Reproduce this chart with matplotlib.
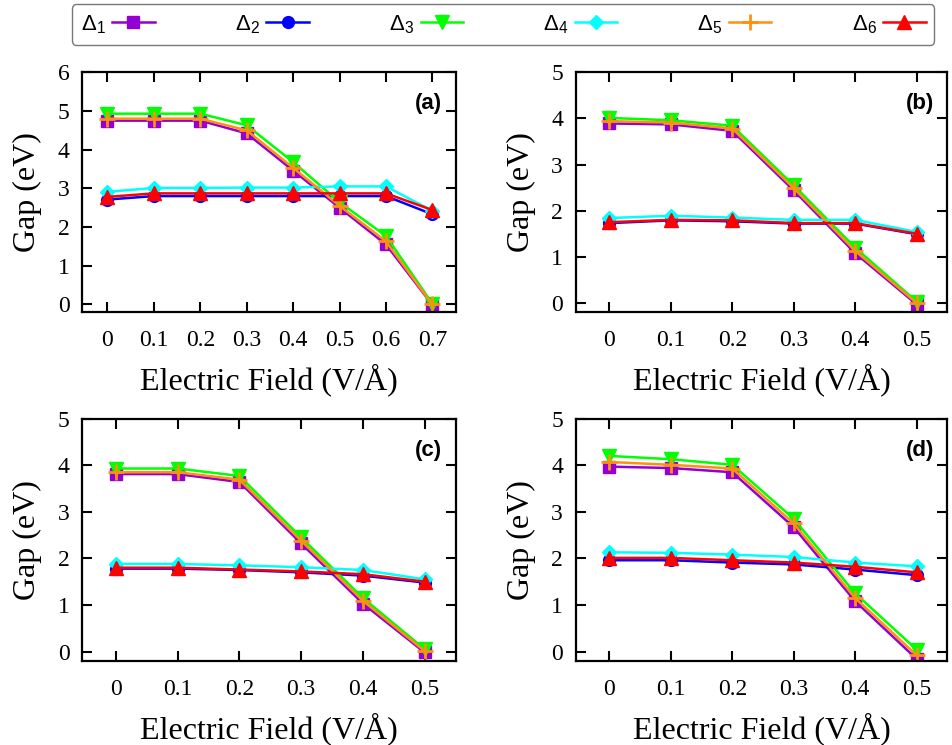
import matplotlib
matplotlib.use('Agg')
import matplotlib.pyplot as plt
from matplotlib.ticker import MultipleLocator

plt.rcParams['font.family'] = 'Liberation Serif'
plt.rcParams['mathtext.fontset'] = 'custom'
plt.rcParams['mathtext.rm'] = 'Liberation Sans'
plt.rcParams['mathtext.it'] = 'Liberation Sans'

# electric field values
field_a = [0, 0.1, 0.2, 0.3, 0.4, 0.5, 0.6, 0.7]
field_b = [0, 0.1, 0.2, 0.3, 0.4, 0.5]

# gaps (eV) for each panel, order: Delta1..Delta6
gaps_a = [
    [4.75, 4.75, 4.75, 4.42, 3.46, 2.50, 1.55, -0.01],
    [2.71, 2.80, 2.80, 2.80, 2.80, 2.80, 2.80, 2.33],
    [4.93, 4.93, 4.93, 4.63, 3.68, 2.64, 1.77, 0.02],
    [2.91, 3.01, 3.01, 3.02, 3.02, 3.05, 3.05, 2.42],
    [4.80, 4.80, 4.80, 4.50, 3.53, 2.55, 1.63, 0.00],
    [2.78, 2.87, 2.87, 2.87, 2.87, 2.87, 2.87, 2.44],
]
gaps_b = [
    [3.89, 3.87, 3.73, 2.44, 1.08, -0.03],
    [1.73, 1.79, 1.77, 1.72, 1.72, 1.49],
    [4.01, 3.96, 3.84, 2.55, 1.20, 0.03],
    [1.84, 1.89, 1.85, 1.80, 1.80, 1.54],
    [3.94, 3.91, 3.78, 2.49, 1.13, 0.00],
    [1.75, 1.80, 1.79, 1.73, 1.73, 1.50],
]
gaps_c = [
    [3.81, 3.81, 3.64, 2.32, 1.03, -0.02],
    [1.78, 1.78, 1.75, 1.70, 1.63, 1.48],
    [3.93, 3.93, 3.77, 2.45, 1.15, 0.05],
    [1.88, 1.88, 1.85, 1.81, 1.75, 1.55],
    [3.85, 3.85, 3.69, 2.38, 1.09, 0.01],
    [1.80, 1.80, 1.76, 1.72, 1.66, 1.50],
]
gaps_d = [
    [3.97, 3.94, 3.85, 2.67, 1.08, -0.16],
    [1.96, 1.96, 1.91, 1.87, 1.76, 1.64],
    [4.20, 4.13, 4.01, 2.85, 1.25, 0.04],
    [2.13, 2.12, 2.08, 2.03, 1.91, 1.83],
    [4.07, 4.01, 3.93, 2.75, 1.15, -0.08],
    [2.01, 2.01, 1.96, 1.91, 1.82, 1.70],
]

labels = [r'$\Delta_1$', r'$\Delta_2$', r'$\Delta_3$', r'$\Delta_4$', r'$\Delta_5$', r'$\Delta_6$']
colors = ['#9400D3', '#0000FF', '#00FF00', '#00FFFF', '#FF9010', '#FF0000']
markers = ['s', 'o', 'v', 'D', '+', '^']
msizes = [9, 8.5, 10, 7.5, 11, 10]

panels = [
    ('(a)', field_a, gaps_a, 6, [0.086, 0.581, 0.392, 0.322]),
    ('(b)', field_b, gaps_b, 5, [0.604, 0.581, 0.390, 0.322]),
    ('(c)', field_b, gaps_c, 5, [0.086, 0.113, 0.392, 0.325]),
    ('(d)', field_b, gaps_d, 5, [0.604, 0.113, 0.390, 0.325]),
]

fig = plt.figure(figsize=(9.53, 7.45), dpi=100)

handles = []
for tag, x, gaps, ymax, pos in panels:
    ax = fig.add_axes(pos)
    for i in range(6):
        h, = ax.plot(x, gaps[i], color=colors[i], marker=markers[i], markersize=msizes[i],
                     markeredgewidth=2 if markers[i] == '+' else 1, linewidth=1.8,
                     label=labels[i])
        if tag == '(a)':
            handles.append(h)
    ax.set_xlim(-0.055, x[-1] + 0.05)
    ax.set_ylim(-0.2, ymax)
    ax.yaxis.set_major_locator(MultipleLocator(1))
    ax.set_xticks(x)
    ax.set_xticklabels(['0'] + [str(v) for v in x[1:]])
    ax.tick_params(direction='in', top=True, right=True, length=7, width=1.5, labelsize=17)
    ax.tick_params(axis='x', pad=13)
    ax.tick_params(axis='y', pad=9)
    for s in ax.spines.values():
        s.set_linewidth(1.6)
    ax.set_xlabel('Electric Field (V/Å)', fontsize=23, labelpad=9)
    ax.set_ylabel('Gap (eV)', fontsize=23, labelpad=11)
    ax.text(0.965, 0.87, tag, transform=ax.transAxes, ha='right', va='center',
            fontsize=16, fontweight='bold', family='Liberation Sans')

leg = fig.legend(handles=handles, loc='lower left', bbox_to_anchor=(0.0755, 0.94, 0.905, 0.054),
                 mode='expand', ncol=6, markerfirst=False, fontsize=16, handlelength=1.9,
                 handletextpad=0.3, frameon=True, fancybox=True, borderaxespad=0)
leg.get_frame().set_edgecolor('#555555')
leg.get_frame().set_linewidth(1.0)

fig.savefig('out.png', dpi=100)
